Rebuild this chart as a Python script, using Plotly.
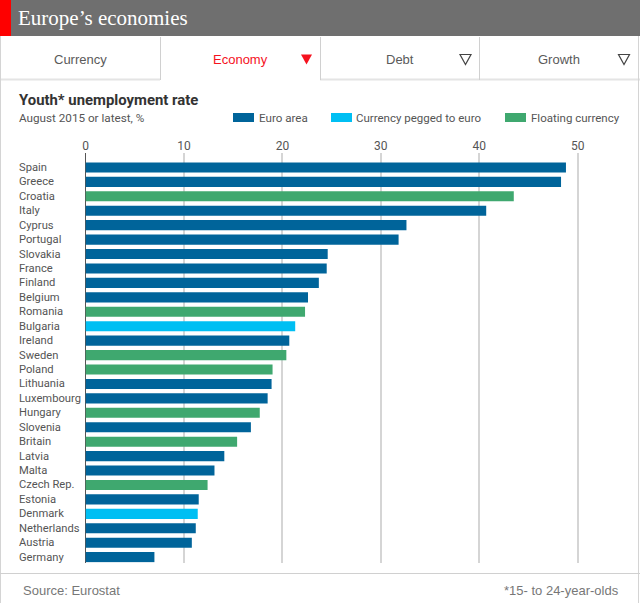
import plotly.graph_objects as go

W, H = 640, 603

countries = ["Spain", "Greece", "Croatia", "Italy", "Cyprus", "Portugal", "Slovakia", "France", "Finland",
             "Belgium", "Romania", "Bulgaria", "Ireland", "Sweden", "Poland", "Lithuania", "Luxembourg",
             "Hungary", "Slovenia", "Britain", "Latvia", "Malta", "Czech Rep.", "Estonia", "Denmark",
             "Netherlands", "Austria", "Germany"]
rates = [48.8, 48.3, 43.5, 40.7, 32.6, 31.8, 24.6, 24.5, 23.7,
         22.6, 22.3, 21.3, 20.7, 20.4, 19.0, 18.9, 18.5,
         17.7, 16.8, 15.4, 14.1, 13.1, 12.4, 11.5, 11.4,
         11.2, 10.8, 7.0]
groups = ["E", "E", "F", "E", "E", "E", "E", "E", "E",
          "E", "F", "P", "E", "F", "F", "E", "E",
          "F", "E", "F", "E", "E", "F", "E", "P",
          "E", "E", "E"]
group_names = {"E": "Euro area", "P": "Currency pegged to euro", "F": "Floating currency"}
group_colors = {"E": "#00649a", "P": "#00bff3", "F": "#3fa86f"}
tick_values = [0, 10, 20, 30, 40, 50]

LABEL = "Roboto"
SANS = "Liberation Sans"
INK = "#555555"
RED = "#f5121e"


def px(x):
    return x / W


def py(y):
    return 1 - y / H


def rect(x0, y0, x1, y1, color):
    return dict(type="rect", xref="paper", yref="paper", x0=px(x0), x1=px(x1), y0=py(y0), y1=py(y1),
                fillcolor=color, line_width=0, layer="above")


def hline(x0, x1, y, color, width=1):
    return dict(type="line", xref="paper", yref="paper", x0=px(x0), x1=px(x1), y0=py(y), y1=py(y),
                line=dict(color=color, width=width), layer="above")


def vline(x, y0, y1, color, width=1):
    return dict(type="line", xref="paper", yref="paper", x0=px(x), x1=px(x), y0=py(y0), y1=py(y1),
                line=dict(color=color, width=width), layer="above")


def triangle(cx, cy, filled):
    pts = [(cx - 5.5, cy - 5), (cx + 5.5, cy - 5), (cx, cy + 5)]
    path = "M" + " L".join(f"{px(a):.5f},{py(b):.5f}" for a, b in pts) + " Z"
    return dict(type="path", xref="paper", yref="paper", path=path,
                fillcolor=RED if filled else "white",
                line=dict(color=RED if filled else "#444444", width=0 if filled else 1.2), layer="above")


def text(x, y, s, size, color, family=LABEL, anchor="left"):
    return dict(xref="paper", yref="paper", x=px(x), y=py(y), text=s, showarrow=False, xanchor=anchor,
                yanchor="middle", font=dict(family=family, size=size, color=color),
                borderpad=0, borderwidth=0)


fig = go.Figure()
for key in ["E", "P", "F"]:
    names = [c for c, g in zip(countries, groups) if g == key]
    vals = [r for r, g in zip(rates, groups) if g == key]
    fig.add_trace(go.Bar(x=vals, y=names, orientation="h", name=group_names[key],
                         marker=dict(color=group_colors[key], line_width=0), showlegend=False, hoverinfo="x+y"))

shapes = [
    rect(0, 0, W, 36, "#6f6f6f"),
    rect(0, 0, 11, 36, "#fe0000"),
    hline(0, 160, 79.5, "#e4e4e4", 2),
    hline(320, W, 79.5, "#e4e4e4", 2),
    vline(160.5, 37, 80, "#d0d0d0"),
    vline(320.5, 37, 80, "#d0d0d0"),
    vline(479.5, 37, 80, "#d0d0d0"),
    vline(0.5, 36, H, "#d4d4d4"),
    vline(638.5, 36, H, "#d4d4d4"),
    hline(0, W, 573.5, "#d0d0d0"),
    triangle(306.5, 59.5, True),
    triangle(465.5, 59.5, False),
    triangle(624, 59.5, False),
    rect(233, 113, 254, 122, group_colors["E"]),
    rect(331, 113, 352, 122, group_colors["P"]),
    rect(505, 113, 526, 122, group_colors["F"]),
]

annotations = [
    text(18, 18, "Europe’s economies", 21, "white", "Liberation Serif"),
    text(80.5, 59, "Currency", 13, "#5a5a5a", SANS, "center"),
    text(240, 59, "Economy", 13, RED, SANS, "center"),
    text(400, 59, "Debt", 13, "#5a5a5a", SANS, "center"),
    text(559, 59, "Growth", 13, "#5a5a5a", SANS, "center"),
    text(18.5, 100, "<b>Youth* unemployment rate</b>", 14.9, "#333333"),
    text(18.5, 117.5, "August 2015 or latest, %", 11.7, INK),
    text(259, 117.5, group_names["E"], 11.6, INK),
    text(356, 117.5, group_names["P"], 11.5, INK),
    text(530.5, 117.5, group_names["F"], 11.5, INK),
    text(23, 590, "Source: Eurostat", 13, "#777777", SANS),
    text(618.5, 590, "*15- to 24-year-olds", 13, "#777777", SANS, "right"),
]
for c in countries:
    annotations.append(dict(xref="paper", yref="y", x=px(18), y=c, text=c, showarrow=False, xanchor="left",
                            yanchor="middle", borderpad=0, font=dict(family=LABEL, size=11.2, color=INK)))

fig.update_layout(
    width=W, height=H, autosize=False,
    margin=dict(l=0, r=0, t=0, b=0, pad=0),
    paper_bgcolor="white", plot_bgcolor="white",
    barmode="overlay", bargap=0.3,
    shapes=shapes, annotations=annotations, showlegend=False,
    font=dict(family=LABEL, size=12, color=INK),
    xaxis=dict(domain=[px(85.5), px(627)], range=[0, 55], side="top", tickvals=tick_values,
               showgrid=True, gridcolor="#d5d5d5", gridwidth=1.6, zeroline=True, zerolinecolor="#555555",
               zerolinewidth=1, ticks="", tickfont=dict(family=LABEL, size=12, color=INK), anchor="y",
               automargin=False, showline=False),
    yaxis=dict(domain=[py(562.5), py(153)], range=[27.37, -1.0], type="category",
               categoryorder="array", categoryarray=countries, showticklabels=False,
               ticks="", showgrid=False, zeroline=False, showline=False, automargin=False),
)

fig.write_html("out.html", config=dict(displayModeBar=False),
               post_script="document.body.style.margin='0';document.documentElement.style.overflow='hidden';")
